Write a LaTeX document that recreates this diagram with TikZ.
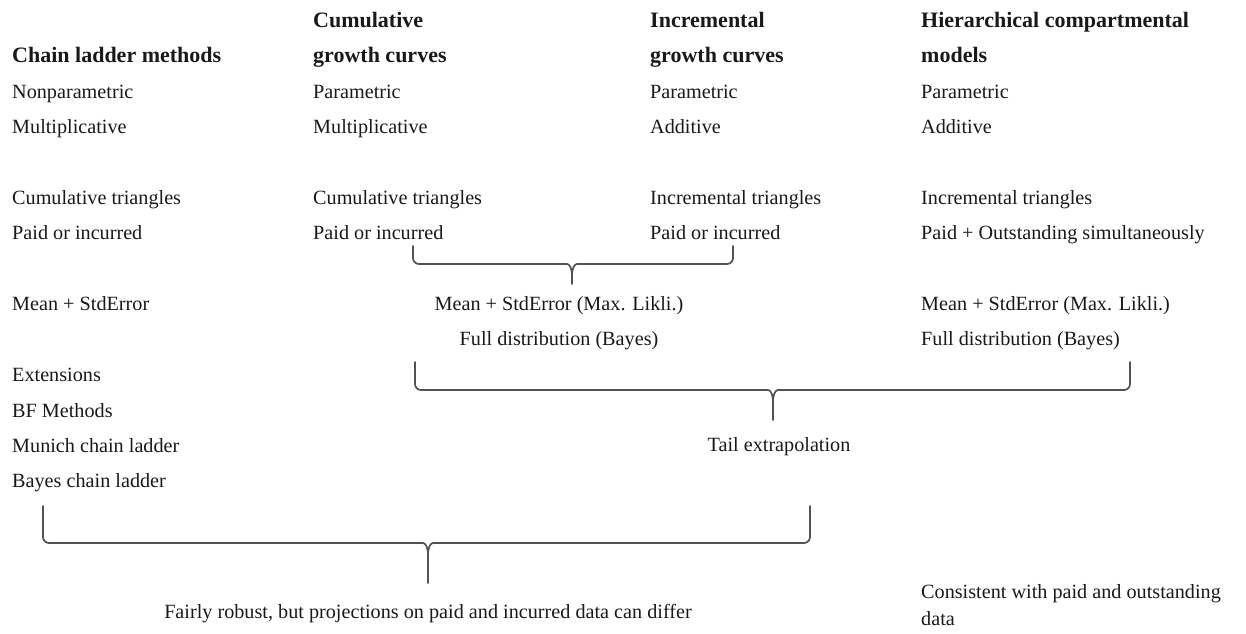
\documentclass[tikz,border=0pt]{standalone}
\usepackage{fontspec}
\setmainfont{Liberation Serif}
\begin{document}
\begin{tikzpicture}[x=1pt,y=-1pt,
  txt/.style={inner sep=0pt,anchor=base west,text=black!90,font=\fontsize{20.2}{24}\selectfont},
  ctxt/.style={txt,anchor=base},
  head/.style={txt,font=\fontsize{22}{26}\selectfont\bfseries},
  bracepath/.style={draw=black!68,line width=1.7pt,line cap=round,line join=round}]
\useasboundingbox (0,0) rectangle (1246,633);

% column headers
\node[head] (h1)  at (12,62)  {Chain ladder methods};
\node[head] (h2a) at (313,27) {Cumulative};
\node[head] (h2b) at (313,62) {growth curves};
\node[head] (h3a) at (650,27) {Incremental};
\node[head] (h3b) at (650,62) {growth curves};
\node[head] (h4a) at (921,27) {Hierarchical compartmental};
\node[head] (h4b) at (921,62) {models};

% model type
\node[txt] (a1) at (12,98)  {Nonparametric};
\node[txt] (b1) at (12,133) {Multiplicative};
\node[txt] (a2) at (313,98)  {Parametric};
\node[txt] (b2) at (313,133) {Multiplicative};
\node[txt] (a3) at (650,98)  {Parametric};
\node[txt] (b3) at (650,133) {Additive};
\node[txt] (a4) at (921,98)  {Parametric};
\node[txt] (b4) at (921,133) {Additive};

% data used
\node[txt] (c1) at (12,204)  {Cumulative triangles};
\node[txt] (d1) at (12,239)  {Paid or incurred};
\node[txt] (c2) at (313,204) {Cumulative triangles};
\node[txt] (d2) at (313,239) {Paid or incurred};
\node[txt] (c3) at (650,204) {Incremental triangles};
\node[txt] (d3) at (650,239) {Paid or incurred};
\node[txt] (c4) at (921,204) {Incremental triangles};
\node[txt] (d4) at (921,239) {Paid + Outstanding simultaneously};

% outputs
\node[txt]  (e1)  at (12,310)  {Mean + StdError};
\node[ctxt] (e23) at (559,310) {Mean + StdError (Max. Likli.)};
\node[ctxt] (f23) at (559,345) {Full distribution (Bayes)};
\node[txt]  (e4)  at (921,310) {Mean + StdError (Max. Likli.)};
\node[txt]  (f4)  at (921,345) {Full distribution (Bayes)};

% extensions
\node[txt] (g1) at (12,381) {Extensions};
\node[txt] (g2) at (12,417) {BF Methods};
\node[txt] (g3) at (12,452) {Munich chain ladder};
\node[txt] (g4) at (12,487) {Bayes chain ladder};
\node[ctxt] (tail) at (779,451) {Tail extrapolation};

% conclusions
\node[ctxt] (robust) at (428,618) {Fairly robust, but projections on paid and incurred data can differ};
\node[txt] (cons1) at (921,598) {Consistent with paid and outstanding};
\node[txt] (cons2) at (921,625) {data};

% curly braces: left x, right x, top y, bar y, cusp x, cusp bottom y
\newcommand\curlybrace[6]{%
  \draw[bracepath,rounded corners=6pt] (#1,#3) -- (#1,#4) -- (#5-11,#4)
    [sharp corners] .. controls (#5-3,#4) and (#5,#4+3) .. (#5,#4+12) -- (#5,#6);
  \draw[bracepath,rounded corners=6pt] (#2,#3) -- (#2,#4) -- (#5+11,#4)
    [sharp corners] .. controls (#5+3,#4) and (#5,#4+3) .. (#5,#4+12);
}
\curlybrace{413}{733}{246}{264}{572}{284}
\curlybrace{415}{1130}{362}{390}{773}{420}
\curlybrace{43}{810}{506}{543}{428}{583}
\end{tikzpicture}
\end{document}
